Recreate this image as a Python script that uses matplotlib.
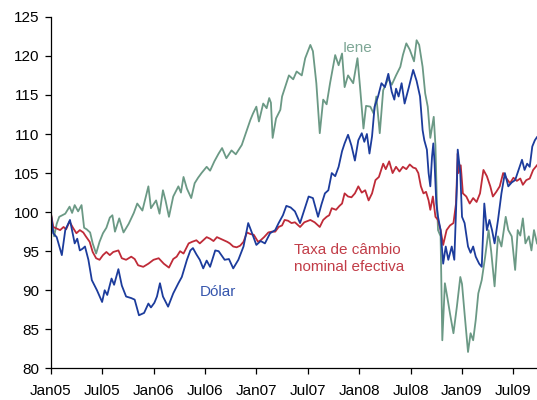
import matplotlib
matplotlib.use("Agg")
import matplotlib.pyplot as plt

plt.rcParams["font.family"] = ["Liberation Sans", "DejaVu Sans"]

# months since Jan 2005 (fractional) and index values (Jan05 = 100)
iene_m = [0, 0.4, 0.7, 1.0, 1.7, 2.2, 2.5, 2.8, 3.2, 3.6, 3.9, 4.2, 4.6, 4.9, 5.3, 5.7,
          6.1, 6.5, 6.9, 7.2, 7.5, 8.0, 8.5, 9.1, 9.7, 10.1, 10.7, 11.4, 11.7, 12.3, 12.7,
          13.1, 13.4, 13.8, 14.3, 14.9, 15.2, 15.5, 15.9, 16.4, 16.8, 17.2, 17.6, 18.2,
          18.6, 19.1, 19.6, 20.0, 20.5, 21.1, 21.6, 22.3, 22.9, 23.3, 23.6, 24.0, 24.3,
          24.8, 25.2, 25.5, 25.7, 25.9, 26.3, 26.8, 27.0, 27.3, 27.8, 28.3, 28.7, 29.3,
          29.7, 30.3, 30.6, 31.0, 31.4, 31.8, 32.2, 32.6, 33.2, 33.6, 34.0, 34.3, 34.7,
          35.3, 35.8, 36.1, 36.5, 36.8, 37.3, 37.7, 38.0, 38.4, 38.8, 39.4, 39.8, 40.3,
          40.8, 41.1, 41.5, 41.9, 42.4, 42.7, 43.0, 43.4, 43.7, 44.0, 44.3, 44.7, 44.9,
          45.05, 45.2, 45.5, 45.7, 46.0, 46.3, 46.6, 47.0, 47.4, 47.8, 48.0, 48.3, 48.7,
          49.0, 49.3, 49.6, 49.9, 50.3, 50.7, 51.1, 51.4, 51.8, 52.2, 52.6, 53.1, 53.4,
          53.8, 54.2, 54.5, 54.8, 55.1, 55.4, 55.8, 56.1, 56.4, 56.75]
iene_v = [100, 96.9, 98.5, 99.4, 99.8, 100.7, 99.9, 100.9, 100.1, 100.9, 98.0, 97.8, 97.4,
          96.0, 94.7, 96.2, 97.3, 98.0, 99.3, 99.6, 97.5, 99.2, 97.4, 98.5, 99.9, 101.1,
          100.2, 103.3, 100.5, 101.5, 99.8, 102.8, 101.5, 99.4, 102.0, 103.3, 102.5, 104.5,
          103.0, 101.8, 103.7, 104.4, 105.0, 105.8, 105.3, 106.5, 107.5, 108.2, 106.9,
          107.9, 107.4, 108.6, 110.5, 111.8, 112.6, 113.5, 111.6, 113.9, 113.3, 114.6,
          114.0, 109.5, 112.0, 113.1, 114.8, 115.8, 117.5, 117.0, 118.0, 117.5, 119.7,
          121.4, 120.6, 116.5, 110.1, 114.4, 113.8, 116.5, 120.1, 118.8, 120.3, 116.0,
          117.5, 116.5, 119.7, 116.0, 110.7, 113.6, 113.5, 112.6, 114.8, 110.1, 115.6,
          117.1, 116.3, 117.5, 118.6, 120.1, 121.6, 120.8, 119.3, 122.0, 121.4, 118.6,
          115.2, 113.5, 109.5, 112.2, 108.5, 102.0, 97.7, 96.9, 83.6, 90.9, 89.0, 87.0,
          84.5, 87.9, 91.7, 90.8, 87.0, 82.1, 84.5, 83.6, 86.2, 89.6, 91.3, 94.3, 97.7,
          95.0, 90.5, 96.9, 95.6, 99.4, 97.7, 96.9, 92.6, 97.7, 97.0, 99.2, 96.0, 96.9,
          95.1, 97.7, 96.0]

dolar_m = [0, 0.3, 0.7, 1.3, 1.7, 2.25, 2.8, 3.1, 3.4, 3.7, 4.0, 4.4, 4.8, 5.4, 6.0, 6.3,
           6.6, 7.1, 7.4, 7.9, 8.3, 8.8, 9.4, 9.8, 10.3, 10.9, 11.4, 11.7, 12.1, 12.4,
           12.75, 13.1, 13.7, 14.3, 14.9, 15.3, 15.9, 16.3, 16.6, 17.0, 17.4, 17.8, 18.2,
           18.6, 19.2, 19.6, 20.3, 20.8, 21.3, 21.9, 22.5, 23.05, 23.4, 24.0, 24.5, 25.0,
           25.6, 26.2, 26.6, 27.1, 27.5, 28.0, 28.5, 29.1, 29.6, 30.1, 30.6, 31.2, 31.6,
           32.0, 32.4, 32.8, 33.2, 33.6, 34.0, 34.3, 34.7, 35.1, 35.5, 35.9, 36.3, 36.6,
           36.9, 37.2, 37.5, 37.8, 38.2, 38.6, 39.0, 39.4, 39.8, 40.1, 40.3, 40.6, 40.95,
           41.3, 41.8, 42.3, 42.7, 43.1, 43.4, 43.6, 43.9, 44.1, 44.3, 44.5, 44.65, 44.8,
           45.0, 45.2, 45.5, 45.8, 46.1, 46.4, 46.8, 47.1, 47.4, 47.5, 47.8, 48.0, 48.3,
           48.7, 49.0, 49.3, 49.6, 50.0, 50.3, 50.6, 50.9, 51.2, 51.5, 51.8, 52.2, 52.6,
           53.0, 53.4, 53.8, 54.2, 54.6, 55.0, 55.3, 55.6, 55.9, 56.2, 56.5, 56.75]
dolar_v = [100, 97.3, 96.8, 94.5, 97.7, 99.0, 96.0, 96.6, 95.1, 95.3, 95.6, 93.9, 91.3,
           90.0, 88.5, 90.0, 89.4, 91.5, 90.7, 92.7, 90.6, 89.2, 89.0, 88.8, 86.8, 87.1,
           88.3, 87.8, 88.4, 89.2, 90.9, 89.2, 87.9, 89.6, 90.9, 91.7, 93.9, 95.1, 95.4,
           94.6, 93.9, 92.8, 93.8, 93.0, 95.1, 95.0, 93.9, 94.0, 92.8, 93.9, 95.6, 98.6,
           97.6, 95.8, 96.3, 96.0, 97.3, 97.7, 98.6, 99.6, 100.8, 100.6, 100.1, 98.6,
           100.3, 102.0, 101.8, 99.4, 101.0, 102.4, 102.8, 105.0, 104.6, 105.8, 107.8,
           108.8, 109.9, 108.5, 106.6, 109.2, 110.1, 109.0, 110.0, 107.5, 109.7, 113.5,
           114.8, 116.5, 116.0, 117.7, 115.4, 114.4, 115.8, 114.8, 116.5, 113.9, 116.0,
           118.2, 116.8, 114.8, 110.5, 109.2, 108.0, 105.0, 103.3, 107.1, 108.8, 106.2,
           101.1, 99.4, 97.7, 93.4, 95.6, 93.9, 95.6, 93.9, 103.3, 108.0, 105.0, 99.4,
           98.6, 95.6, 94.8, 95.6, 94.3, 93.4, 93.0, 101.1, 97.7, 99.0, 97.7, 96.0, 99.0,
           102.4, 105.0, 103.3, 103.8, 104.1, 105.4, 106.7, 105.4, 106.2, 105.8, 108.4,
           109.2, 109.6]

taxa_m = [0, 0.3, 0.7, 1.1, 1.5, 1.8, 2.2, 2.6, 3.0, 3.4, 3.8, 4.1, 4.55, 4.9, 5.3, 5.7,
          6.1, 6.5, 6.9, 7.3, 7.9, 8.3, 8.8, 9.4, 9.8, 10.2, 10.8, 11.4, 12.0, 12.6, 13.2,
          13.8, 14.3, 14.7, 15.1, 15.5, 16.1, 16.5, 17.0, 17.4, 17.8, 18.2, 18.6, 19.0,
          19.4, 19.8, 20.2, 20.6, 20.9, 21.3, 21.7, 22.1, 22.5, 22.9, 23.3, 23.7, 24.2,
          24.5, 24.9, 25.4, 25.8, 26.2, 26.6, 27.0, 27.3, 27.7, 28.1, 28.5, 29.1, 29.6,
          30.3, 30.8, 31.4, 31.8, 32.2, 32.5, 32.8, 33.3, 33.7, 34.0, 34.3, 34.7, 35.1,
          35.5, 35.9, 36.3, 36.7, 37.1, 37.5, 37.9, 38.3, 38.8, 39.1, 39.5, 39.9, 40.3,
          40.7, 41.1, 41.5, 41.9, 42.3, 42.6, 42.9, 43.2, 43.5, 43.8, 44.1, 44.3, 44.6,
          44.9, 45.2, 45.5, 45.8, 46.2, 46.6, 47.0, 47.3, 47.5, 47.6, 47.85, 48.1, 48.5,
          48.9, 49.3, 49.7, 50.1, 50.5, 50.9, 51.3, 51.6, 52.0, 52.4, 52.8, 53.2, 53.6,
          54.0, 54.4, 54.8, 55.1, 55.5, 55.9, 56.3, 56.75]
taxa_v = [100, 98.1, 97.9, 97.7, 98.1, 97.8, 98.8, 98.0, 97.3, 97.7, 97.4, 96.9, 96.2,
          94.9, 94.1, 93.9, 94.5, 94.9, 94.5, 94.9, 95.1, 94.1, 93.9, 94.3, 94.0, 93.2,
          93.0, 93.4, 93.9, 94.1, 93.4, 92.9, 94.0, 94.3, 95.0, 94.7, 96.0, 96.2, 96.4,
          96.0, 96.4, 96.8, 96.6, 96.3, 96.8, 96.6, 96.4, 96.2, 96.0, 95.6, 95.5, 95.7,
          96.2, 97.4, 97.2, 97.1, 96.2, 96.4, 96.8, 97.4, 97.5, 97.5, 98.1, 98.3, 99.0,
          98.9, 98.6, 98.7, 98.1, 98.7, 99.0, 98.7, 98.1, 99.0, 99.4, 99.6, 100.5, 100.3,
          100.8, 101.1, 102.4, 102.0, 101.9, 102.4, 103.3, 102.5, 102.8, 101.5, 102.4,
          104.1, 104.5, 106.2, 105.5, 106.5, 105.0, 105.8, 105.2, 105.8, 105.5, 106.1,
          105.7, 105.6, 105.0, 103.3, 102.4, 102.6, 101.5, 100.3, 102.0, 99.4, 99.0, 97.7,
          95.8, 97.7, 98.3, 98.6, 101.1, 107.5, 105.0, 106.0, 102.4, 102.0, 101.1, 101.8,
          101.3, 102.4, 105.4, 104.6, 103.3, 102.0, 102.6, 103.3, 105.0, 104.3, 103.7,
          104.4, 104.0, 104.3, 103.5, 104.1, 104.3, 105.4, 106.0]

tick_months = [0, 6, 12, 18, 24, 30, 36, 42, 48, 54]
tick_labels = ["Jan05", "Jul05", "Jan06", "Jul06", "Jan07", "Jul07",
               "Jan08", "Jul08", "Jan09", "Jul09"]

c_iene = "#6b9985"
c_dolar = "#1c3c9c"
c_taxa = "#bf2b38"

fig = plt.figure(figsize=(5.37, 4.0), dpi=100)
ax = fig.add_axes([0.0944, 0.079, 0.9056, 0.879])

ax.plot(iene_m, iene_v, color=c_iene, lw=1.3)
ax.plot(taxa_m, taxa_v, color=c_taxa, lw=1.3)
ax.plot(dolar_m, dolar_v, color=c_dolar, lw=1.3)

ax.text(35.86, 121.07, "Iene", color="#7ea796", fontsize=11, ha="center", va="center")
ax.text(19.52, 89.83, "Dólar", color="#3656ad", fontsize=11, ha="center", va="center")
ax.text(28.38, 94.06, "Taxa de câmbio\nnominal efectiva", color="#c23d48",
        fontsize=11, ha="left", va="center")

ax.set_xlim(0, 56.75)
ax.set_ylim(80, 125)
ax.set_yticks(range(80, 126, 5))
ax.set_xticks(tick_months)
ax.set_xticklabels(tick_labels)
ax.tick_params(axis="both", labelsize=11, length=4, width=0.9, direction="out")
ax.tick_params(axis="x", pad=7)
ax.tick_params(axis="y", pad=4)
for s in ["top", "right"]:
    ax.spines[s].set_visible(False)
for s in ["left", "bottom"]:
    ax.spines[s].set_linewidth(0.9)

fig.savefig("out.png", dpi=100)
